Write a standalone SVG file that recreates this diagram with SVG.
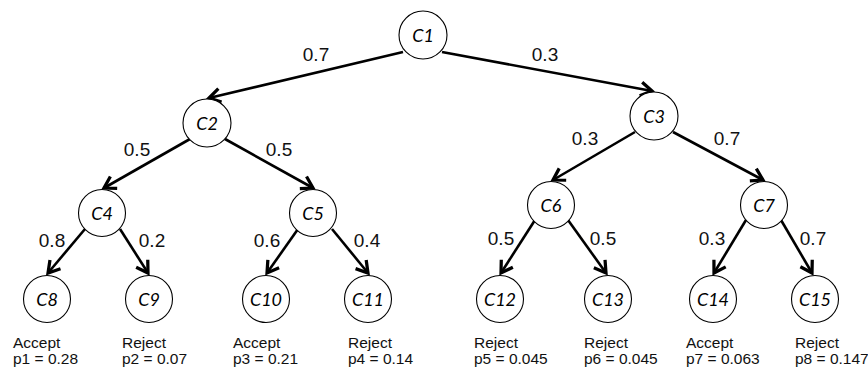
<svg xmlns="http://www.w3.org/2000/svg" width="868" height="367" viewBox="0 0 868 367">
<style>
.node circle{fill:#fff;stroke:#000;stroke-width:1.1}
.node text{font-family:Lato,"Open Sans",sans-serif;font-style:italic;font-size:18px;fill:#000;text-anchor:middle;dominant-baseline:central}
.edge line{stroke:#000;stroke-width:2.6;marker-end:url(#arr)}
.lbl{font-family:"Liberation Sans",Arial,sans-serif;font-size:19px;fill:#111;text-anchor:middle;dominant-baseline:central}
.leaf{font-family:"Liberation Sans",Arial,sans-serif;font-size:15.5px;fill:#111}
</style>
<defs>
<marker id="arr" markerUnits="userSpaceOnUse" markerWidth="20" markerHeight="20" refX="0" refY="0" viewBox="-12 -8 14 16" orient="auto">
<path d="M-9,-5.5 L0,0 L-9,5.5" fill="none" stroke="#000" stroke-width="2.6" stroke-linejoin="miter"/>
</marker>
</defs>
<g id="connectors" class="edge">
<line x1="403" y1="52" x2="209" y2="98"/>
<line x1="442" y1="52" x2="652" y2="91"/>
<line x1="190" y1="139" x2="104" y2="188"/>
<line x1="225" y1="139" x2="313" y2="188"/>
<line x1="635" y1="132" x2="553" y2="180"/>
<line x1="673" y1="132" x2="763" y2="180"/>
<line x1="85" y1="229" x2="48" y2="273"/>
<line x1="120" y1="229" x2="148" y2="273"/>
<line x1="298" y1="229" x2="267" y2="273"/>
<line x1="332" y1="229" x2="368" y2="273"/>
<line x1="535" y1="220" x2="501" y2="273"/>
<line x1="568" y1="220" x2="606" y2="273"/>
<line x1="746" y1="220" x2="714" y2="273"/>
<line x1="781" y1="220" x2="812" y2="273"/>
</g>
<g id="edge-labels">
<text class="lbl" x="316" y="54">0.7</text>
<text class="lbl" x="545" y="54">0.3</text>
<text class="lbl" x="137" y="149">0.5</text>
<text class="lbl" x="279" y="149">0.5</text>
<text class="lbl" x="585" y="138">0.3</text>
<text class="lbl" x="727" y="138">0.7</text>
<text class="lbl" x="52" y="240">0.8</text>
<text class="lbl" x="152" y="240">0.2</text>
<text class="lbl" x="267" y="240">0.6</text>
<text class="lbl" x="367" y="240">0.4</text>
<text class="lbl" x="501" y="238">0.5</text>
<text class="lbl" x="603" y="238">0.5</text>
<text class="lbl" x="712" y="238">0.3</text>
<text class="lbl" x="813" y="238">0.7</text>
</g>
<g id="C1" class="node"><circle cx="423" cy="35" r="24"/><text x="423" y="35">C1</text></g>
<g id="C2" class="node"><circle cx="207" cy="123" r="24"/><text x="207" y="123">C2</text></g>
<g id="C3" class="node"><circle cx="654" cy="116" r="24"/><text x="654" y="116">C3</text></g>
<g id="C4" class="node"><circle cx="102" cy="213" r="23.5"/><text x="102" y="213">C4</text></g>
<g id="C5" class="node"><circle cx="313" cy="213" r="23.5"/><text x="313" y="213">C5</text></g>
<g id="C6" class="node"><circle cx="551" cy="205" r="23.5"/><text x="551" y="205">C6</text></g>
<g id="C7" class="node"><circle cx="764" cy="205" r="23.5"/><text x="764" y="205">C7</text></g>
<g id="C8" class="node"><circle cx="47" cy="299" r="23.5"/><text x="47" y="299">C8</text></g>
<g id="C9" class="node"><circle cx="149" cy="299" r="23.5"/><text x="149" y="299">C9</text></g>
<g id="C10" class="node"><circle cx="266" cy="299" r="23.5"/><text x="266" y="299">C10</text></g>
<g id="C11" class="node"><circle cx="368" cy="299" r="23.5"/><text x="368" y="299">C11</text></g>
<g id="C12" class="node"><circle cx="500" cy="299" r="23.5"/><text x="500" y="299">C12</text></g>
<g id="C13" class="node"><circle cx="608" cy="299" r="23.5"/><text x="608" y="299">C13</text></g>
<g id="C14" class="node"><circle cx="713" cy="299" r="23.5"/><text x="713" y="299">C14</text></g>
<g id="C15" class="node"><circle cx="815" cy="299" r="23.5"/><text x="815" y="299">C15</text></g>
<g id="leaf-labels" class="leaf">
<text x="13" y="348">Accept</text><text x="13" y="364">p1 = 0.28</text>
<text x="122" y="348">Reject</text><text x="122" y="364">p2 = 0.07</text>
<text x="233" y="348">Accept</text><text x="233" y="364">p3 = 0.21</text>
<text x="348" y="348">Reject</text><text x="348" y="364">p4 = 0.14</text>
<text x="474" y="348">Reject</text><text x="474" y="364">p5 = 0.045</text>
<text x="584" y="348">Reject</text><text x="584" y="364">p6 = 0.045</text>
<text x="686" y="348">Accept</text><text x="686" y="364">p7 = 0.063</text>
<text x="795" y="348">Reject</text><text x="795" y="364">p8 = 0.147</text>
</g>
</svg>
